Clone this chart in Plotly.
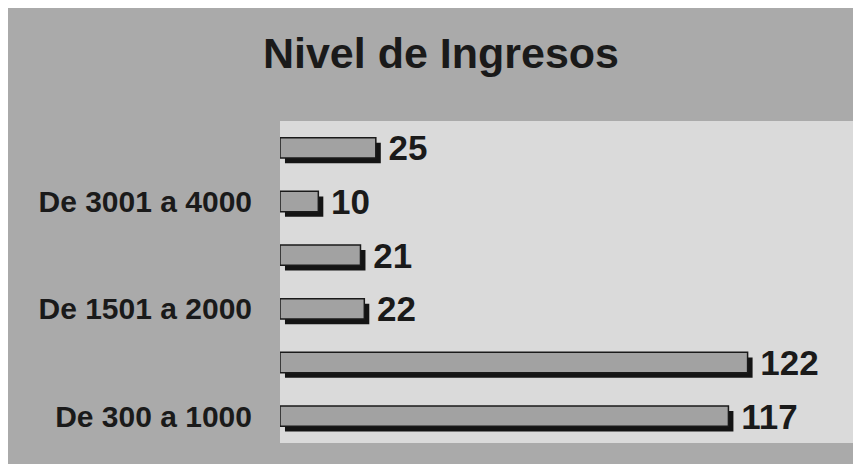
import plotly.graph_objects as go

categories = ["De 300 a 1000", "De 1001 a 1500", "De 1501 a 2000",
              "De 2001 a 3000", "De 3001 a 4000", "Más de 4000"]
values = [117, 122, 22, 21, 10, 25]
tick_labels = ["De 300 a 1000", "De 1501 a 2000", "De 3001 a 4000"]
tick_cats = [categories[0], categories[2], categories[4]]
title_text = "Nivel de Ingresos"

FONT = "Liberation Sans, Arial, sans-serif"
# the page body has an 8 px margin, so the figure starts at (8, 8)
W, H = 853, 456
L, R, T, B = 272, 8, 113, 21

bar_w = 0.38
shadow_dx = 1.3      # x-axis units (about 5 px)
shadow_dy = 0.095    # category units (about 5 px)

fig = go.Figure()
# shadow (drawn first, offset right/down)
fig.add_trace(go.Bar(
    y=categories, x=values, base=shadow_dx, orientation="h",
    width=bar_w, offset=-bar_w / 2 - shadow_dy,
    marker=dict(color="#141414", line=dict(width=0)),
    hoverinfo="skip", showlegend=False,
))
# main bar with value labels
fig.add_trace(go.Bar(
    y=categories, x=values, orientation="h",
    width=bar_w, offset=-bar_w / 2,
    marker=dict(color="#a2a2a2", line=dict(color="#1a1a1a", width=1.5)),
    text=["\u00a0" + str(v) for v in values], textposition="outside",
    constraintext="none",
    textfont=dict(family=FONT, size=35, color="#1a1a1a", weight="bold"),
    cliponaxis=False, showlegend=False,
))

fig.update_layout(
    width=W, height=H,
    margin=dict(l=L, r=R, t=T, b=B),
    barmode="overlay",
    paper_bgcolor="#aaaaaa",
    plot_bgcolor="#dadada",
    title=dict(text=title_text, x=433 / W, xanchor="center",
               y=1 - 45 / H, yanchor="middle",
               font=dict(family=FONT, size=43, color="#1a1a1a", weight="bold")),
    xaxis=dict(range=[0, 149.5], visible=False, showgrid=False, zeroline=False),
    yaxis=dict(type="category", categoryorder="array", categoryarray=categories,
               tickvals=tick_cats, ticktext=tick_labels,
               ticklabelstandoff=27, showgrid=False, showline=False, ticks="",
               tickfont=dict(family=FONT, size=30, color="#1a1a1a", weight="bold")),
)

fig.write_html("out.html")
